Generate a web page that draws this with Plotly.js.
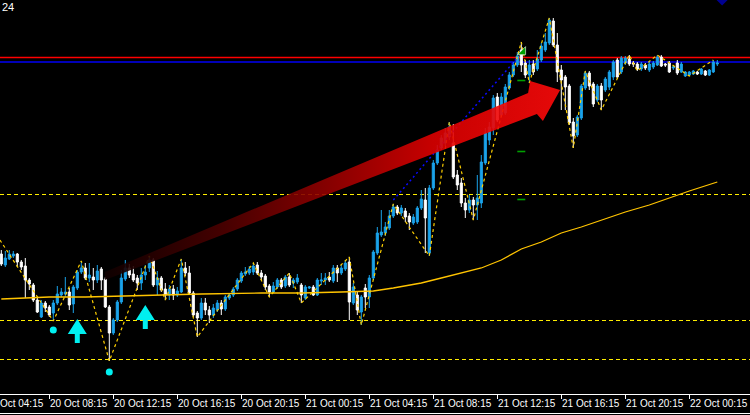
<!DOCTYPE html>
<html><head><meta charset="utf-8">
<script src="https://cdn.plot.ly/plotly-3.0.1.min.js"></script>
<style>html,body{margin:0;padding:0;background:#000;}#chart{width:750px;height:415px;}</style>
</head><body><div id="chart"></div>
<script>
// ---- candle data (15-minute bars, index 0 = 20 Oct 05:15), price in chart points ----
const openP = [
146,135,141,144,146,138,134,120,115,100,
83,97,93,87,97,105,106,108,96,112,
128,132,122,123,120,131,121,93,67,80,
98,121,132,126,122,117,125,132,140,115,
122,111,105,111,105,108,132,127,107,87,
82,97,90,85,90,97,91,102,105,111,
119,126,127,128,135,127,124,114,108,113,
120,114,123,117,118,115,102,112,113,105,
119,120,123,119,132,127,131,138,97,105,
88,112,103,122,147,165,167,172,184,193,
187,189,184,177,178,192,200,147,212,237,
252,257,263,257,225,217,197,190,200,195,
197,237,260,272,303,285,287,312,325,335,
350,337,325,336,331,340,350,357,379,355,
330,323,314,278,265,282,312,327,316,300,
314,310,313,323,340,328,337,341,337,336,
331,335,330,333,335,343,336,337,332,337,
328,324,325,326,328,326,329,325,328,336];
const highP = [
150,149,150,149,147,140,142,122,117,102,
100,99,95,100,114,112,123,112,115,130,
139,137,137,132,135,133,123,95,82,100,
130,140,136,134,125,132,135,144,142,129,
124,117,115,115,113,141,138,134,109,89,
102,102,94,96,100,100,105,107,113,122,
129,133,134,137,138,130,126,116,118,122,
122,125,127,122,126,117,115,114,115,122,
127,127,128,135,135,135,140,143,117,108,
105,116,125,150,173,190,178,190,196,195,
195,192,187,186,194,210,212,215,240,255,
265,272,278,276,230,222,202,205,203,225,
245,272,278,305,307,307,316,328,338,348,
358,340,340,340,350,357,367,382,382,367,
335,325,316,282,285,316,329,329,318,316,
317,323,330,340,342,344,344,345,339,338,
338,337,338,339,345,345,337,339,335,340,
338,329,329,330,329,332,330,331,340,340];
const lowP = [
134,133,140,142,133,130,102,110,98,87,
82,88,83,79,95,103,103,90,87,110,
126,120,118,110,117,110,92,39,65,78,
96,119,122,118,110,110,120,128,113,105,
108,100,100,100,103,107,124,105,83,63,
80,85,77,82,88,85,89,100,103,109,
117,124,125,125,125,120,110,103,107,111,
111,112,113,112,116,97,100,111,104,104,
115,115,118,117,118,125,129,80,95,85,
75,92,92,120,145,163,164,170,182,185,
184,178,170,175,176,190,147,144,210,235,
250,254,260,221,210,193,182,187,180,180,
192,235,255,265,278,283,285,310,323,333,
328,322,317,325,329,338,348,355,353,318,
290,290,275,252,263,280,310,310,293,298,
290,308,310,320,321,326,335,334,333,329,
329,330,328,331,334,333,333,327,330,325,
327,323,324,325,325,325,324,324,327,334];
const closeP = [
136,142,146,146,138,133,120,116,100,88,
97,92,85,97,106,108,108,95,113,128,
132,122,125,120,129,120,93,67,80,98,
122,132,125,120,117,125,128,140,115,122,
110,105,111,105,109,132,127,107,85,82,
97,90,85,92,97,91,103,105,111,120,
127,128,131,134,127,123,113,108,114,120,
113,123,115,120,122,105,113,113,105,120,
120,122,120,132,127,132,137,98,113,90,
103,103,122,148,167,168,173,184,193,187,
192,183,178,183,192,201,182,212,237,250,
262,267,273,223,215,197,190,200,195,202,
238,267,273,302,280,303,313,325,335,344,
335,325,335,328,341,354,358,380,355,328,
320,313,277,264,283,314,327,314,296,314,
300,321,328,338,323,342,342,336,336,331,
336,332,336,337,343,334,335,328,333,327,
336,328,328,329,326,331,325,330,338,337];

// time axis
const tickIdx  = [-4,12,28,44,60,76,92,108,124,140,156,172];
const tickText = ['20 Oct 04:15','20 Oct 08:15','20 Oct 12:15','20 Oct 16:15','20 Oct 20:15',
  '21 Oct 00:15','21 Oct 04:15','21 Oct 08:15','21 Oct 12:15','21 Oct 16:15','21 Oct 20:15','22 Oct 00:15'];

// moving average (sampled)
const maIdx = [0,5,12,21,30,35,50,65,75,85,93,98,105,110,115,120,125,130,135,140,145,150,156,162,167,172,179];
const maVal = [101,102,103,103,104,105,106,107,107,108,109,112,117,122,127,132,140,151,158,167,173,180,188,195,202,209,218];

// zigzag pivots
const zzIdx = [-2,13,20,27,37,41,45,49,63,67,72,75,87,90,98,107,112,118,130,132,137,143,146,150,157,159,164,172,178];
const zzVal = [170,79,139,39,144,100,141,63,137,103,127,97,143,75,196,144,278,180,358,317,382,252,329,290,345,329,345,324,340];

// horizontal levels
const dashedLevels = [205.5,79.5,40.5];
const redLevel = 342.5, blueLevel = 338;

// trend line (blue dotted)
const trendIdx = [98,129.2];
const trendVal = [200,343];

// green order marks
const greenIdx = [129.0,131.0];
const greenLevels = [319.5,248.5,200.5];
const greenArrow = {idx:130.4, val:348};
const navyMark = {idx:180.2, val:401};

// signals
const buyIdx = [19,36];
const buyTip = [81,95];
const dotIdx = [13,27];
const dotVal = [70,28];

// red drawing arrow polygon (index, price)
const redArrowIdx = [25.9,131.7,132.2,139.7,135.4,133.9,25.9];
const redArrowVal = [128,307,319,310,279,286,120];

// ---- layout constants ----
const W = 750, H = 415, mB = 21;
const plotH = H - mB;
const xr0 = -0.325, xr1 = xr0 + W/4;
const yr0 = 6, yr1 = 400;
const pxX = (xr1-xr0)/W, pxY = (yr1-yr0)/plotH;
const idx = openP.map((_, i) => i);
const BLUE = '#1aa3ea';

const traces = [];
traces.push({type:'scatter',mode:'lines',x:maIdx,y:maVal,line:{color:'#ffc400',width:1.3},hoverinfo:'skip'});
traces.push({type:'candlestick',x:idx,open:openP,high:highP,low:lowP,close:closeP,
  increasing:{line:{color:BLUE,width:1},fillcolor:BLUE},
  decreasing:{line:{color:'#ffffff',width:1},fillcolor:'#ffffff'},
  whiskerwidth:0,hoverinfo:'skip'});
traces.push({type:'scatter',mode:'lines',x:zzIdx,y:zzVal,line:{color:'#ffd000',width:1.2,dash:'3px,3px'},hoverinfo:'skip'});
traces.push({type:'scatter',mode:'lines',x:trendIdx,y:trendVal,line:{color:'#0a0aff',width:1.5,dash:'2px,3px'},hoverinfo:'skip'});
greenLevels.forEach(g => traces.push({type:'scatter',mode:'lines',x:greenIdx,y:[g,g],line:{color:'#00a000',width:1.6},hoverinfo:'skip'}));
traces.push({type:'scatter',mode:'lines',x:redArrowIdx,y:redArrowVal,fill:'toself',
  fillcolor:'#c00000',
  fillgradient:{type:'horizontal',colorscale:[[0,'#100000'],[0.25,'#4a0000'],[0.5,'#980000'],[0.72,'#dd0000'],[1,'#ff0a0a']]},
  line:{width:0,color:'rgba(0,0,0,0)'},opacity:0.9,hoverinfo:'skip'});
traces.push({type:'scatter',mode:'markers',x:dotIdx,y:dotVal,marker:{symbol:'circle',size:7,color:'#00f0f0'},hoverinfo:'skip'});
traces.push({type:'scatter',mode:'markers',x:[greenArrow.idx],y:[greenArrow.val],marker:{symbol:'triangle-se',size:9,color:'#00a000',line:{color:'#ffffff',width:0.6}},hoverinfo:'skip'});
traces.push({type:'scatter',mode:'markers',x:[navyMark.idx],y:[navyMark.val],marker:{symbol:'diamond',size:10,color:'#000090'},hoverinfo:'skip'});

const shapes = [];
shapes.push({type:'line',xref:'paper',x0:0,x1:1,yref:'y',y0:redLevel,y1:redLevel,line:{color:'#ff0000',width:1.3},layer:'below'});
shapes.push({type:'line',xref:'paper',x0:0,x1:1,yref:'y',y0:blueLevel,y1:blueLevel,line:{color:'#0000b8',width:2},layer:'below'});
dashedLevels.forEach(l => shapes.push({type:'line',xref:'paper',x0:0,x1:1,yref:'y',y0:l,y1:l,line:{color:'#ffee00',width:1,dash:'4px,3px'},layer:'below'}));
shapes.push({type:'line',xref:'paper',x0:0,x1:1,yref:'paper',y0:-(H-1.5-plotH)/plotH,y1:-(H-1.5-plotH)/plotH,line:{color:'#ffffff',width:1}});
buyIdx.forEach((bi, k) => {
  const v = buyTip[k];
  const hw = 9.5*pxX, sw = 2.5*pxX, hh = 15*pxY, tl = 24*pxY;
  shapes.push({type:'path',xref:'x',yref:'y',fillcolor:'#00f0f0',line:{width:0},
    path:`M${bi},${v} L${bi+hw},${v-hh} L${bi+sw},${v-hh} L${bi+sw},${v-tl} L${bi-sw},${v-tl} L${bi-sw},${v-hh} L${bi-hw},${v-hh} Z`});
});

const annotations = tickIdx.map((t, k) => ({
  xref:'paper', yref:'paper', x:(t-xr0)/(xr1-xr0) - 1.5/W, y:-(403.5-plotH)/plotH,
  xanchor:'left', yanchor:'middle', showarrow:false, text:tickText[k],
  font:{family:'Liberation Sans, Arial, sans-serif', size:10, color:'#ffffff'}
}));
annotations.push({xref:'paper',yref:'paper',x:0,y:1,xanchor:'left',yanchor:'top',showarrow:false,text:'24',
  xshift:0,yshift:1,font:{family:'Liberation Sans, Arial, sans-serif',size:11,color:'#ffffff'}});

const layout = {
  width:W, height:H, margin:{l:0,r:0,t:0,b:mB,pad:0},
  paper_bgcolor:'#000000', plot_bgcolor:'#000000', showlegend:false, hovermode:false,
  boxgap:0.25,
  xaxis:{range:[xr0,xr1],rangeslider:{visible:false},showgrid:false,zeroline:false,
    showline:true,linecolor:'#ffffff',linewidth:1,ticks:'outside',ticklen:4,tickcolor:'#ffffff',tickwidth:1,
    tickmode:'array',tickvals:tickIdx,showticklabels:false,fixedrange:true},
  yaxis:{range:[yr0,yr1],showgrid:false,zeroline:false,showline:false,showticklabels:false,ticks:'',fixedrange:true},
  shapes:shapes, annotations:annotations
};
Plotly.newPlot('chart', traces, layout, {staticPlot:true, displayModeBar:false});
</script></body></html>
